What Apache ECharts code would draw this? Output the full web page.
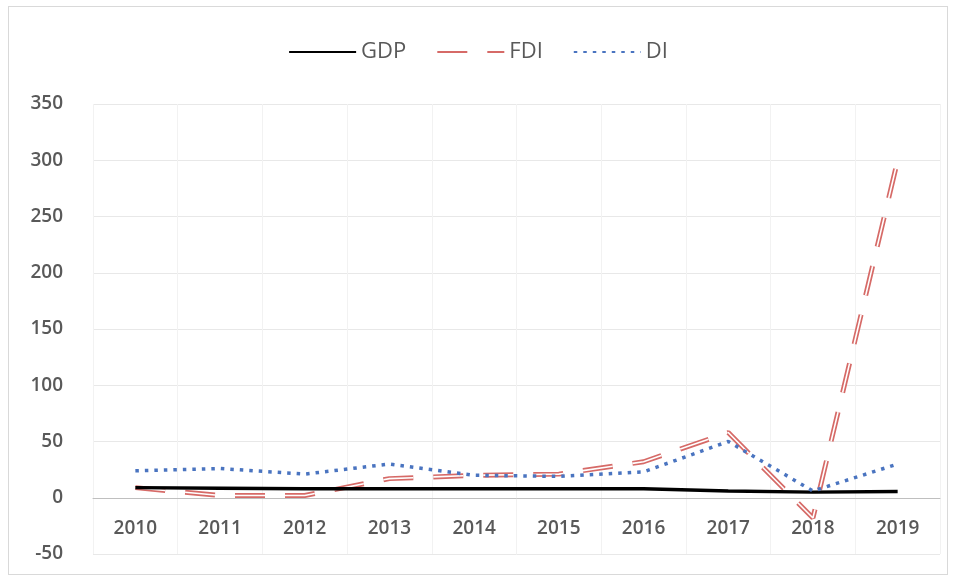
<!DOCTYPE html>
<html><head><meta charset="utf-8">
<script src="https://cdn.jsdelivr.net/npm/echarts@6/dist/echarts.min.js"></script>
<style>html,body{margin:0;padding:0;background:#fff;overflow:hidden;}
#c{position:absolute;left:0;top:0;width:956px;height:581px;}
#b{position:absolute;left:8px;top:6px;width:938px;height:567px;border:1px solid #d9d9d9;}
</style></head>
<body><div id="b"></div><div id="c"></div>
<script>
const years = ['2010','2011','2012','2013','2014','2015','2016','2017','2018','2019'];
const gdp = [9, 8.5, 8, 8, 8, 8, 8, 6, 5, 5.5];
const fdi = [9, 2, 2, 17, 20, 21, 32, 58, -18, 300];
const di  = [24, 26, 21, 30, 20, 19, 23, 50, 6, 30];
const yMin = -50, yMax = 350;

const H = 581, gTop = 104, gBottom = 27;
const gh = H - gTop - gBottom;
const zeroOffset = gh * (0 - yMin) / (yMax - yMin);

const chart = echarts.init(document.getElementById('c'));
const txt = '#595959';
chart.setOption({
  animation: false,
  legend: {
    data: ['GDP','FDI','DI'],
    top: 36, left: 'center',
    itemWidth: 67, itemHeight: 14, itemGap: 30,
    itemStyle: {opacity: 0},
    textStyle: {color: txt, fontSize: 22, fontFamily: 'Open Sans'}
  },
  grid: {left: 93, right: 16, top: gTop, bottom: gBottom, outerBoundsMode: 'none', containLabel: false},
  xAxis: {
    type: 'category', data: years, boundaryGap: true, position: 'bottom',
    offset: -zeroOffset,
    axisLine: {onZero: false, lineStyle: {color: '#bfbfbf', width: 1}},
    axisTick: {show: false},
    axisLabel: {color: txt, fontSize: 19, margin: 21, fontFamily: 'Open Sans', fontWeight: 600},
    splitLine: {show: true, lineStyle: {color: '#f2f2f2'}}
  },
  yAxis: {
    type: 'value', min: yMin, max: yMax, interval: 50,
    axisLine: {show: false}, axisTick: {show: false},
    axisLabel: {color: txt, fontSize: 19, margin: 30, fontFamily: 'Open Sans', fontWeight: 600},
    splitLine: {lineStyle: {color: '#e8e8e8'}}
  },
  series: [
    {name: 'GDP', type: 'line', data: gdp, symbol: 'none',
     lineStyle: {color: '#000', width: 3.5}, itemStyle: {color: '#000'}, z: 3},
    {name: 'FDI', type: 'line', data: fdi, symbol: 'none',
     lineStyle: {color: '#d66a67', width: 5, type: [30, 20]}, itemStyle: {color: '#d66a67'}, z: 2},
    {name: 'FDI_gap', type: 'line', data: fdi, symbol: 'none', silent: true,
     lineStyle: {color: '#ffffff', width: 1.6, type: [30, 20]}, z: 2.5},
    {name: 'DI', type: 'line', data: di, symbol: 'none',
     lineStyle: {color: '#4a74c0', width: 3.5, type: [3.5, 6]}, itemStyle: {color: '#4a74c0'}, z: 4}
  ]
});
</script></body></html>
